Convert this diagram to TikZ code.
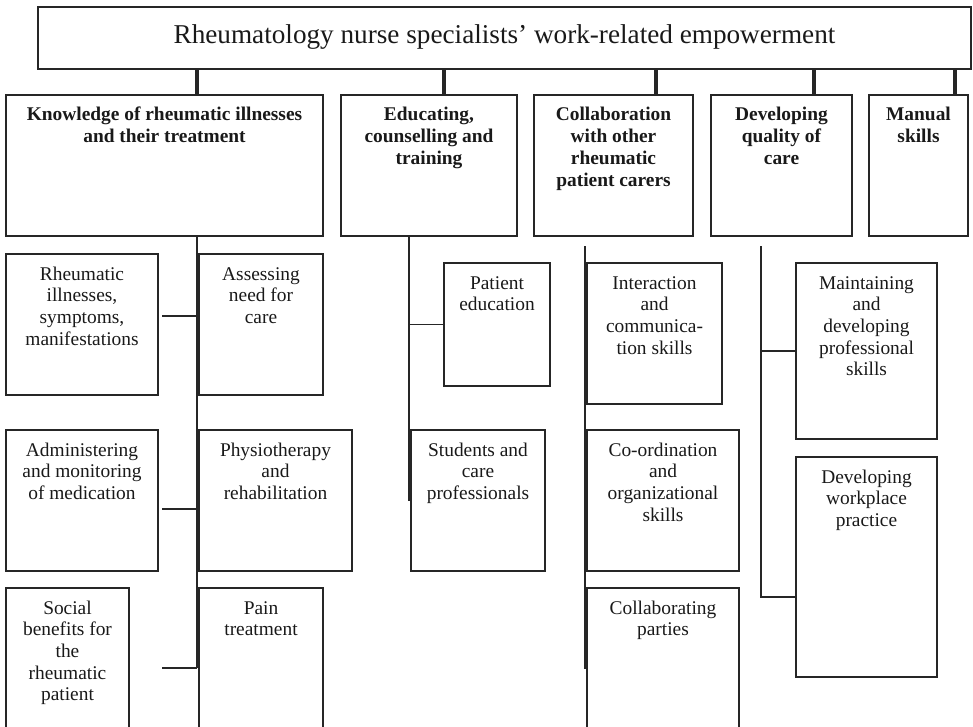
\documentclass[tikz,border=0pt]{standalone}
\usepackage{fontspec}
\setmainfont{Liberation Serif}
\usetikzlibrary{positioning}

\begin{document}
\begin{tikzpicture}[x=0.5pt, y=-0.5pt,
        every node/.style={inner sep=0pt, outer sep=0pt},
        mainbox/.style={draw=black!85, line width=0.6pt, minimum width=466.5pt, minimum height=31pt, font=\fontsize{13.6}{16}\selectfont, text=black!90},
        catbox/.style={draw=black!85, line width=0.6pt, anchor=north west, minimum height=70.5pt},
        leaf/.style={draw=black!85, line width=0.6pt, anchor=north west},
        cattext/.style={label={[anchor=north, align=center, font=\fontsize{9.7}{11}\selectfont\bfseries, text=black!90]north:{\rule{0pt}{13pt}#1}}},
        boxtext/.style={label={[anchor=north, align=center, font=\fontsize{9.7}{10.85}\selectfont, text=black!90]north:{\rule{0pt}{13pt}#1}}},
        stub/.style={draw=black!85, line width=2pt},
        link/.style={draw=black!85, line width=0.6pt}
    ]
        \useasboundingbox (0,0) rectangle (973,727);
        \clip (0,0) rectangle (973,727);

        % Main concept (top)
        \node[mainbox, text depth=4pt] (top) at (504.5,38) {Rheumatology nurse specialists’ work-related empowerment};

        % Categories (second row)
        \node[catbox, minimum width=158.5pt, cattext={Knowledge of rheumatic illnesses\\and their treatment}] (know) at (6,95) {};
        \node[catbox, minimum width=88pt, cattext={Educating,\\counselling and\\training}] (edu) at (341,95) {};
        \node[catbox, minimum width=79.5pt, cattext={Collaboration\\with other\\rheumatic\\patient carers}] (coll) at (534,95) {};
        \node[catbox, minimum width=70.5pt, cattext={Developing\\quality of\\care}] (qual) at (711,95) {};
        \node[catbox, minimum width=49.5pt, cattext={Manual\\skills}] (manu) at (869,95) {};

        % Thick stubs from the main box down to each category
        \foreach \sx/\cat in {197/know, 444/edu, 656/coll, 814/qual, 955/manu} {
            \coordinate (s\cat) at (\sx,0);
            \draw[stub] (s\cat |- top.south) -- (s\cat |- \cat.north);
        }

        % Knowledge: leaves on both sides of one spine
        \node[leaf, minimum width=76pt, minimum height=70.5pt, boxtext={Rheumatic\\illnesses,\\symptoms,\\manifestations}] (ill) at (6,254) {};
        \node[leaf, minimum width=62pt, minimum height=70.5pt, boxtext={Assessing\\need for\\care}] (need) at (199,254) {};
        \node[leaf, minimum width=76pt, minimum height=70.5pt, boxtext={Administering\\and monitoring\\of medication}] (med) at (6,430) {};
        \node[leaf, minimum width=76.5pt, minimum height=70.5pt, boxtext={Physiotherapy\\and\\rehabilitation}] (phys) at (199,430) {};
        \node[leaf, minimum width=61.5pt, minimum height=70.5pt, boxtext={Social\\benefits for\\the\\rheumatic\\patient}] (soc) at (6,588) {};
        \node[leaf, minimum width=62pt, minimum height=70.5pt, boxtext={Pain\\treatment}] (pain) at (199,588) {};

        \coordinate (kend) at (197,668);
        \draw[link] (know.south -| kend) -- (kend);
        \coordinate (t1) at (162,316);
        \coordinate (t2) at (162,509);
        \coordinate (t3) at (162,668);
        \foreach \t in {t1, t2, t3} {
            \draw[link] (\t) -- (\t -| kend);
        }

        % Educating
        \node[leaf, minimum width=53pt, minimum height=61.5pt, boxtext={Patient\\education}] (pat) at (444,263) {};
        \node[leaf, minimum width=67pt, minimum height=70.5pt, boxtext={Students and\\care\\professionals}] (stud) at (411,430) {};

        \coordinate (espine) at (409,236);
        \draw[link] (espine) |- (stud.west);
        \draw[link] (espine |- pat.west) -- (pat.west);

        % Collaboration
        \node[leaf, minimum width=67.5pt, minimum height=70.5pt, boxtext={Interaction\\and\\communica-\\tion skills}] (inter) at (587,263) {};
        \node[leaf, minimum width=76pt, minimum height=70.5pt, boxtext={Co-ordination\\and\\organizational\\skills}] (coord) at (587,430) {};
        \node[leaf, minimum width=76pt, minimum height=70.5pt, boxtext={Collaborating\\parties}] (part) at (587,588) {};

        \coordinate (ctop) at (585,246);
        \coordinate (cend) at (585,668);
        \draw[link] (ctop) -- (cend) -- (cend -| part.west);
        \draw[link] (ctop |- inter.west) -- (inter.west);
        \draw[link] (ctop |- coord.west) -- (coord.west);

        % Developing quality of care
        \node[leaf, minimum width=70.5pt, minimum height=88pt, boxtext={Maintaining\\and\\developing\\professional\\skills}] (maint) at (796,263) {};
        \node[leaf, minimum width=70.5pt, minimum height=110pt, boxtext={Developing\\workplace\\practice}] (work) at (796,457) {};

        \coordinate (qtop) at (761,246);
        \coordinate (qend) at (761,597);
        \draw[link] (qtop) -- (qend) -- (qend -| work.west);
        \draw[link] (qtop |- maint.west) -- (maint.west);

    \end{tikzpicture}
\end{document}
